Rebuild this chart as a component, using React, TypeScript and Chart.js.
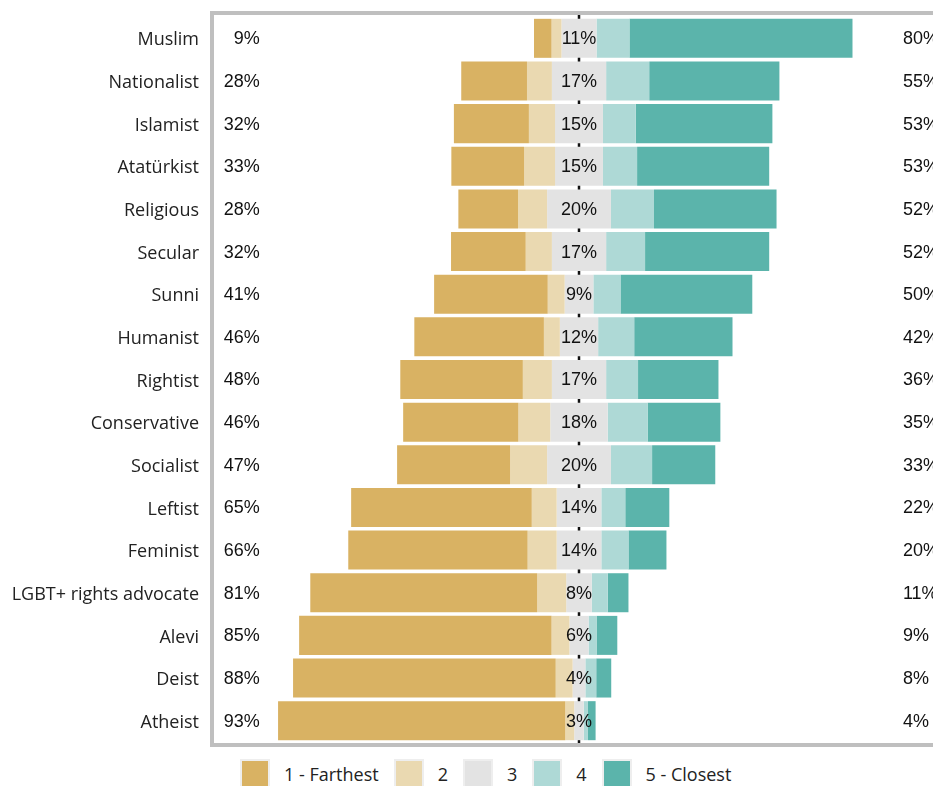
import React, { useEffect, useRef } from "react";
import { Chart, registerables } from "chart.js";

Chart.register(...registerables);

const categories = [
  "Muslim", "Nationalist", "Islamist", "Atatürkist", "Religious", "Secular", "Sunni",
  "Humanist", "Rightist", "Conservative", "Socialist", "Leftist", "Feminist",
  "LGBT+ rights advocate", "Alevi", "Deist", "Atheist",
];

const farthest = [5.5, 20.6, 23.5, 22.8, 18.7, 23.4, 35.6, 40.6, 38.4, 36.1, 35.4, 56.6, 56.2, 71.1, 79.1, 82.3, 90];
const second = [3.1, 7.8, 8.2, 9.7, 9.1, 8.2, 5.3, 5, 9.1, 10, 11.6, 7.8, 9.1, 9.1, 5.6, 5.3, 2.8];
const neutral = [11, 17, 15, 15, 20, 17, 9, 12, 17, 18, 20, 14, 14, 8, 6, 4, 3];
const fourth = [10.3, 13.5, 10.3, 10.7, 13.5, 12.2, 8.5, 11.3, 10, 12.5, 12.9, 7.5, 8.5, 5, 2.5, 3.4, 1.3];
const closest = [69.9, 40.8, 42.8, 41.4, 38.4, 38.9, 41.3, 30.8, 25.2, 22.8, 19.8, 13.8, 11.9, 6.5, 6.5, 4.7, 2.4];

const farLabels = [9, 28, 32, 33, 28, 32, 41, 46, 48, 46, 47, 65, 66, 81, 85, 88, 93];
const neutralLabels = [11, 17, 15, 15, 20, 17, 9, 12, 17, 18, 20, 14, 14, 8, 6, 4, 3];
const closeLabels = [80, 55, 53, 53, 52, 52, 50, 42, 36, 35, 33, 22, 20, 11, 9, 8, 4];

const seriesNames = ["1 - Farthest", "2", "3", "4", "5 - Closest"];
const seriesColors = ["#d9b263", "#ead9b1", "#e3e3e3", "#aed9d6", "#5bb4ab"];

const X_MIN = -115;
const X_MAX = 115;
const FAR_LABEL_AT = -100;
const CLOSE_LABEL_AT = 101.5;

function buildRanges() {
  const r: [number, number][][] = [[], [], [], [], []];
  categories.forEach((_, i) => {
    const h = neutral[i] / 2;
    const a = -(h + second[i] + farthest[i]);
    const b = -(h + second[i]);
    const c = -h;
    const d = h;
    const e = h + fourth[i];
    const f = h + fourth[i] + closest[i];
    r[0].push([a, b]);
    r[1].push([b, c]);
    r[2].push([c, d]);
    r[3].push([d, e]);
    r[4].push([e, f]);
  });
  return r;
}

const decorPlugin = {
  id: "decor",
  beforeDatasetsDraw(chart: any) {
    const { ctx, chartArea, scales } = chart;
    const x0 = scales.x.getPixelForValue(0);
    ctx.save();
    ctx.strokeStyle = "#111";
    ctx.lineWidth = 2.5;
    ctx.beginPath();
    ctx.moveTo(x0, chartArea.top - 4);
    ctx.lineTo(x0, chartArea.bottom + 3);
    ctx.stroke();
    ctx.restore();
  },
  afterDatasetsDraw(chart: any) {
    const { ctx, scales } = chart;
    const xs = scales.x;
    const ys = scales.y;
    ctx.save();
    ctx.font = '18px "Liberation Sans", Arial, sans-serif';
    ctx.fillStyle = "#111";
    ctx.textBaseline = "middle";
    categories.forEach((_, i) => {
      const y = ys.getPixelForValue(i) + 1;
      ctx.textAlign = "right";
      ctx.fillText(farLabels[i] + "%", xs.getPixelForValue(FAR_LABEL_AT), y);
      ctx.textAlign = "center";
      ctx.fillText(neutralLabels[i] + "%", xs.getPixelForValue(0), y);
      ctx.textAlign = "left";
      ctx.fillText(closeLabels[i] + "%", xs.getPixelForValue(CLOSE_LABEL_AT), y);
    });
    ctx.restore();
  },
  afterDraw(chart: any) {
    const { ctx, chartArea, width } = chart;
    ctx.save();
    ctx.strokeStyle = "#bfbfbf";
    ctx.lineWidth = 4;
    const L = chartArea.left;
    const T = chartArea.top - 4;
    const B = chartArea.bottom + 3;
    ctx.beginPath();
    ctx.moveTo(L - 2, T);
    ctx.lineTo(width, T);
    ctx.moveTo(L, T - 2);
    ctx.lineTo(L, B + 2);
    ctx.moveTo(L - 2, B);
    ctx.lineTo(width, B);
    ctx.stroke();
    ctx.restore();
  },
};

export default function App() {
  const ref = useRef<HTMLCanvasElement | null>(null);

  useEffect(() => {
    if (!ref.current) return;
    const ranges = buildRanges();
    const chart = new Chart(ref.current, {
      type: "bar",
      data: {
        labels: categories,
        datasets: seriesNames.map((name, k) => ({
          label: name,
          data: ranges[k] as any,
          backgroundColor: seriesColors[k],
          borderWidth: 0,
          grouped: false,
          barPercentage: 1,
          categoryPercentage: 0.915,
        })),
      },
      options: {
        indexAxis: "y",
        responsive: true,
        maintainAspectRatio: false,
        animation: false,
        layout: { padding: { top: 17, bottom: 8, right: 14, left: 0 } },
        plugins: { legend: { display: false }, tooltip: { enabled: false }, title: { display: false } },
        scales: {
          x: { display: false, min: X_MIN, max: X_MAX },
          y: {
            grid: { display: false, drawTicks: false },
            border: { display: false },
            ticks: {
              padding: 13,
              labelOffset: 2,
              color: "#222",
              font: { family: '"Open Sans", sans-serif', size: 18 },
            },
            afterFit: (scale: any) => {
              scale.width = 212;
              scale.paddingTop = 0;
              scale.paddingBottom = 0;
            },
          },
        },
      },
      plugins: [decorPlugin],
    } as any);
    return () => chart.destroy();
  }, []);

  return (
    <div style={{ position: "fixed", left: 0, top: 0, width: 933, height: 786, overflow: "hidden", background: "#fff" }}>
      <div style={{ position: "absolute", left: 0, top: 0, width: 960, height: 750 }}>
        <canvas ref={ref} />
      </div>
      <div
        style={{
          position: "absolute",
          left: 240,
          top: 759,
          display: "flex",
          alignItems: "center",
          fontFamily: '"Open Sans", sans-serif',
          fontSize: 18,
          color: "#222",
          whiteSpace: "nowrap",
        }}
      >
        {seriesNames.map((name, k) => (
          <div key={name} style={{ display: "flex", alignItems: "center", marginRight: 15 }}>
            <span
              style={{
                display: "inline-block",
                width: 26,
                height: 26,
                background: seriesColors[k],
                border: "2px solid #eeeeee",
              }}
            />
            <span style={{ marginLeft: 14 }}>{name}</span>
          </div>
        ))}
      </div>
    </div>
  );
}
